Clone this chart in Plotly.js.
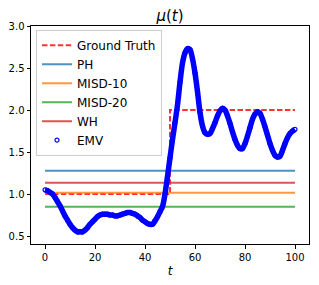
<!DOCTYPE html>
<html>
<head>
<meta charset="utf-8">
<script src="https://cdn.plot.ly/plotly-3.0.1.min.js"></script>
<style>html,body{margin:0;padding:0;background:#fff;}#chart{width:319px;height:285px;}</style>
</head>
<body>
<div id="chart"></div>
<script>
// Ground truth (step function)
const gtT = [0, 50, 50, 100];
const gtMu = [1.0, 1.0, 2.0, 2.0];

// Constant estimates
const estNames = ["PH", "MISD-10", "MISD-20", "WH"];
const estValues = [1.276, 1.016, 0.848, 1.135];
const estRange = [0, 100];

// EMV estimate
const emvT = [0,1,2,3,4,5,6,7,8,9,10,11,12,13,14,15,16,17,18,19,20,21,22,23,24,25,26,27,28,29,30,31,32,33,34,35,36,37,38,39,40,41,42,43,44,45,46,47,48,49,50,51,52,53,54,55,56,57,58,59,60,61,62,63,64,65,66,67,68,69,70,71,72,73,74,75,76,77,78,79,80,81,82,83,84,85,86,87,88,89,90,91,92,93,94,95,96,97,98,99,100];
const emvMu = [1.05,1.04,1.02,1.00,0.96,0.91,0.86,0.80,0.74,0.69,0.64,0.60,0.57,0.55,0.55,0.55,0.57,0.60,0.64,0.67,0.70,0.73,0.75,0.76,0.76,0.76,0.75,0.75,0.74,0.74,0.75,0.76,0.77,0.78,0.78,0.77,0.76,0.74,0.72,0.69,0.67,0.65,0.64,0.64,0.68,0.73,0.79,0.85,1.00,1.21,1.43,1.65,1.85,2.06,2.33,2.56,2.68,2.73,2.72,2.61,2.44,2.22,1.97,1.81,1.73,1.71,1.72,1.78,1.85,1.93,1.99,2.02,2.00,1.93,1.84,1.74,1.65,1.58,1.54,1.54,1.60,1.69,1.79,1.89,1.95,1.98,1.96,1.89,1.80,1.70,1.60,1.52,1.46,1.44,1.45,1.52,1.60,1.67,1.72,1.75,1.77];

const estColors = ["#1f77b4", "#ff7f0e", "#2ca02c", "#d62728"];

const traces = [];
traces.push({
  x: gtT, y: gtMu, type: "scatter", mode: "lines", name: "Ground Truth",
  line: {color: "#ff0000", width: 2, dash: "5.5px,2.4px"}, opacity: 0.8
});
estNames.forEach((n, i) => {
  traces.push({
    x: estRange, y: [estValues[i], estValues[i]], type: "scatter", mode: "lines", name: n,
    line: {color: estColors[i], width: 2}, opacity: 0.8
  });
});
traces.push({
  x: emvT, y: emvMu, type: "scatter", mode: "lines", showlegend: false, hoverinfo: "skip",
  line: {color: "#0000ff", width: 5.5, shape: "spline", smoothing: 0.8}
});
traces.push({
  x: emvT, y: emvMu, type: "scatter", mode: "markers", name: "EMV",
  marker: {symbol: "circle-open", size: 4, color: "#0000ff", line: {width: 1.2, color: "#0000ff"}}
});

const layout = {
  width: 319, height: 285,
  margin: {l: 31, r: 10, t: 26, b: 41, pad: 0},
  paper_bgcolor: "#fff", plot_bgcolor: "#fff",
  font: {family: "DejaVu Sans", size: 10, color: "#000"},
  title: {text: "<i>μ</i>(<i>t</i>)", font: {family: "DejaVu Sans", size: 15, color: "#000"}, x: 0.5, xref: "paper", xanchor: "center", y: 0.945, yref: "container", yanchor: "middle"},
  xaxis: {
    range: [-5.6, 105.6], tickvals: [0, 20, 40, 60, 80, 100],
    showgrid: false, zeroline: false, showline: true, linecolor: "#000", linewidth: 1, mirror: true,
    ticks: "outside", ticklen: 3.5, tickwidth: 1, tickcolor: "#000",
    tickfont: {family: "DejaVu Sans", size: 10, color: "#000"},
    title: {text: "<i>t</i>", font: {family: "DejaVu Sans", size: 12, color: "#000"}, standoff: 5}
  },
  yaxis: {
    range: [0.405, 3.0], tickvals: [0.5, 1.0, 1.5, 2.0, 2.5, 3.0], tickformat: ".1f",
    showgrid: false, zeroline: false, showline: true, linecolor: "#000", linewidth: 1, mirror: true,
    ticks: "outside", ticklen: 3.5, tickwidth: 1, tickcolor: "#000",
    tickfont: {family: "DejaVu Sans", size: 10, color: "#000"}
  },
  legend: {
    x: 0.018, y: 0.983, xanchor: "left", yanchor: "top",
    bgcolor: "rgba(255,255,255,0.8)", bordercolor: "#cccccc", borderwidth: 1,
    font: {family: "DejaVu Sans", size: 12, color: "#000"},
    tracegroupgap: 0
  },
  showlegend: true
};

Plotly.newPlot("chart", traces, layout, {staticPlot: true, displayModeBar: false});
</script>
</body>
</html>
